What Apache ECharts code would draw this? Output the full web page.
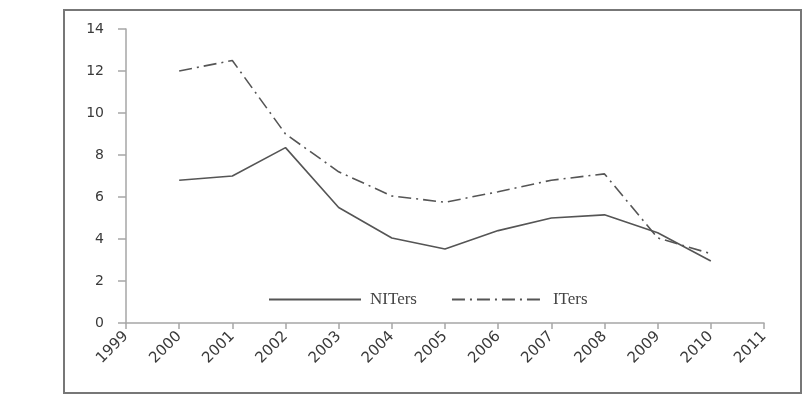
<!DOCTYPE html>
<html>
<head>
<meta charset="utf-8">
<script src="https://cdn.jsdelivr.net/npm/echarts@6/dist/echarts.min.js"></script>
<style type="text/css">
html, body{margin: 0; padding: 0; background: #fff;}
#chart{width: 806px; height: 420px;}
</style>
</head>
<body>
<div id="chart"></div>
<script>
// years on the axis, values from 2000 to 2010
var years = ['1999', '2000', '2001', '2002', '2003', '2004', '2005', '2006', '2007', '2008', '2009', '2010', '2011'];
var niters = [6.8, 7.0, 8.35, 5.5, 4.05, 3.52, 4.4, 5.0, 5.15, 4.3, 2.95];
var iters = [12.0, 12.5, 9.0, 7.2, 6.05, 5.75, 6.25, 6.8, 7.1, 4.05, 3.3];
var yTicks = [0, 2, 4, 6, 8, 10, 12, 14];

function pad(arr){
    return [null].concat(arr).concat([null]);
}

var myChart = echarts.init(document.getElementById('chart'));
var options = {
    animation: false,
    backgroundColor: '#fff',
    grid: {left: 126, right: 42, top: 29, bottom: 97},
    legend: {
        left: 263, top: 286,
        itemWidth: 92, itemHeight: 14, itemGap: 34,
        itemStyle: {opacity: 0},
        textStyle: {fontFamily: 'Liberation Serif', fontSize: 17, color: '#444', padding: [0, 0, 0, 4]},
        data: ['NITers', 'ITers']
    },
    xAxis: {
        type: 'category',
        boundaryGap: false,
        data: years,
        axisLine: {lineStyle: {color: '#a6a6a6', width: 1.5}},
        axisTick: {show: true, length: 6, lineStyle: {color: '#a6a6a6', width: 1.5}},
        axisLabel: {rotate: 45, margin: 11, color: '#3a3a3a', fontFamily: 'DejaVu Sans', fontSize: 15}
    },
    yAxis: {
        type: 'value',
        min: yTicks[0], max: yTicks[yTicks.length - 1], interval: 2,
        splitLine: {show: false},
        axisLine: {show: true, lineStyle: {color: '#a6a6a6', width: 1.5}},
        axisTick: {show: true, length: 8, lineStyle: {color: '#a6a6a6', width: 1.5}},
        axisLabel: {margin: 22, color: '#3a3a3a', fontFamily: 'DejaVu Sans', fontSize: 14}
    },
    graphic: [{
        type: 'rect',
        shape: {x: 64, y: 10, width: 737, height: 383},
        style: {fill: 'none', stroke: '#777', lineWidth: 2}
    }],
    series: [{
        name: 'NITers',
        type: 'line',
        symbol: 'none',
        data: pad(niters),
        lineStyle: {color: '#555', width: 1.6},
        itemStyle: {color: '#555'}
    }, {
        name: 'ITers',
        type: 'line',
        symbol: 'none',
        data: pad(iters),
        lineStyle: {color: '#555', width: 1.6, type: [13, 5, 2, 5]},
        itemStyle: {color: '#555'}
    }]
};
myChart.setOption(options);
</script>
</body>
</html>
